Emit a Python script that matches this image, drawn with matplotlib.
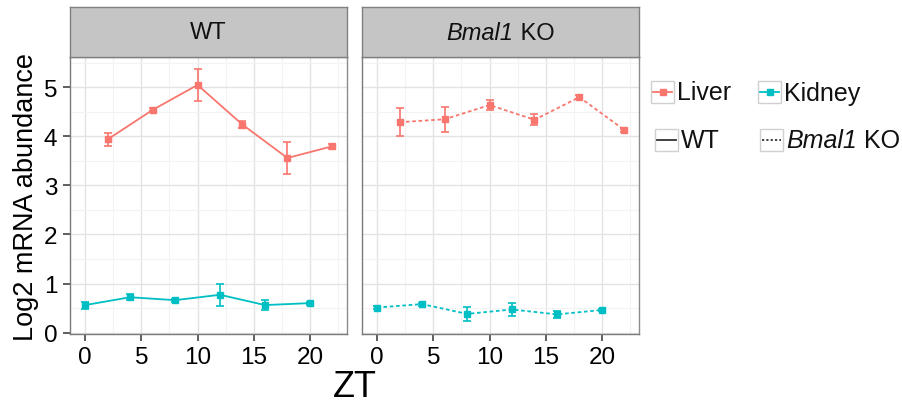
import matplotlib
matplotlib.use("Agg")
import matplotlib.pyplot as plt
from matplotlib.patches import Rectangle
from matplotlib.lines import Line2D
from matplotlib.offsetbox import TextArea, HPacker, AnnotationBbox

plt.rcParams['font.family'] = ['Liberation Sans', 'DejaVu Sans']

# Data (ZT hours, log2 abundance, error)
zt_liver = [2, 6, 10, 14, 18, 22]
zt_kidney = [0, 4, 8, 12, 16, 20]

wt_liver = [3.94, 4.54, 5.05, 4.24, 3.56, 3.80]
wt_liver_err = [0.13, 0.03, 0.32, 0.07, 0.33, 0.05]
wt_kidney = [0.56, 0.72, 0.66, 0.77, 0.56, 0.60]
wt_kidney_err = [0.07, 0.06, 0.03, 0.22, 0.10, 0.03]

ko_liver = [4.29, 4.35, 4.64, 4.34, 4.80, 4.13]
ko_liver_err = [0.28, 0.25, 0.10, 0.11, 0.04, 0.03]
ko_kidney = [0.51, 0.58, 0.38, 0.47, 0.37, 0.46]
ko_kidney_err = [0.04, 0.03, 0.15, 0.13, 0.07, 0.03]

liver_col = '#F8766D'
kidney_col = '#00BFC4'

W, H = 902, 410
fig = plt.figure(figsize=(W / 100, H / 100), dpi=100)


def px_box(x0, y0, x1, y1):
    # pixel box (top-left origin) -> figure fraction
    return [x0 / W, 1 - y1 / H, (x1 - x0) / W, (y1 - y0) / H]


def mixed_label(ax, xy, parts, size, align):
    # text made of (string, style) pieces, e.g. italic gene name + plain text
    boxes = [TextArea(s, textprops=dict(fontsize=size, fontstyle=st, color='#111111'))
             for s, st in parts]
    pack = HPacker(children=boxes, pad=0, sep=0, align='baseline')
    ab = AnnotationBbox(pack, xy, xycoords=ax.transData if align != 'center' else ax.transAxes,
                        box_alignment=(0 if align == 'left' else 0.5, 0.5),
                        frameon=False, pad=0)
    ax.add_artist(ab)


ko_title = [('Bmal1', 'italic'), (' KO', 'normal')]

panels = [
    ([('WT', 'normal')], 'solid', wt_liver, wt_liver_err, wt_kidney, wt_kidney_err, 70, 347),
    (ko_title, (0, (2, 1.5)), ko_liver, ko_liver_err, ko_kidney, ko_kidney_err, 362, 639),
]

for i, (title, ls, lv, lve, kd, kde, x0, x1) in enumerate(panels):
    ax = fig.add_axes(px_box(x0, 58, x1, 335))
    ax.set_xlim(-1.35, 23.3)
    ax.set_ylim(-0.03, 5.62)
    ax.set_xticks([0, 5, 10, 15, 20])
    ax.set_yticks([0, 1, 2, 3, 4, 5])
    ax.set_xticks([2.5, 7.5, 12.5, 17.5, 22.5], minor=True)
    ax.set_yticks([0.5, 1.5, 2.5, 3.5, 4.5, 5.5], minor=True)
    ax.grid(which='major', color='#E3E3E3', lw=1.0)
    ax.grid(which='minor', color='#F3F3F3', lw=0.8)
    ax.set_axisbelow(True)
    for s in ax.spines.values():
        s.set_color('#8C8C8C')
        s.set_linewidth(1.0)
    ax.spines['left'].set_color('#7A7A7A')
    ax.spines['bottom'].set_color('#7A7A7A')
    ax.tick_params(which='major', direction='out', length=5, width=1.1,
                   color='#333333', labelsize=17.5, pad=4)
    ax.tick_params(which='minor', length=0)
    if i > 0:
        ax.tick_params(axis='y', which='major', length=0, labelleft=False)

    for x, y, e, c in [(zt_liver, lv, lve, liver_col), (zt_kidney, kd, kde, kidney_col)]:
        ax.plot(x, y, color=c, ls=ls, lw=1.3)
        ax.errorbar(x, y, yerr=e, fmt='s', color=c, ms=4.5, ecolor=c,
                    elinewidth=1.2, capsize=3, capthick=1.2, ls='none')

    # facet strip
    sax = fig.add_axes(px_box(x0, 8, x1, 58))
    sax.set_xticks([])
    sax.set_yticks([])
    sax.set_facecolor('#C4C5C4')
    for s in sax.spines.values():
        s.set_color('#808080')
        s.set_linewidth(1.0)
    mixed_label(sax, (0.5, 0.5), title, 17, 'center')

fig.text(26 / W, 1 - 197 / H, 'Log2 mRNA abundance', rotation=90,
         ha='center', va='center', fontsize=19.5)
fig.text(355 / W, 1 - 388 / H, 'ZT', ha='center', va='center', fontsize=26)

# legend drawn in a pixel-coordinate overlay
lax = fig.add_axes([0, 0, 1, 1])
lax.set_xlim(0, W)
lax.set_ylim(H, 0)
lax.axis('off')

keys = [
    (651, 82, [('Liver', 'normal')], liver_col, 'solid', True),
    (758, 82, [('Kidney', 'normal')], kidney_col, 'solid', True),
    (655, 130, [('WT', 'normal')], '#333333', 'solid', False),
    (760, 130, ko_title, '#333333', (0, (1.2, 1.2)), False),
]
for kx, ky, lab, c, ls, mk in keys:
    lax.add_patch(Rectangle((kx, ky), 23, 22, fill=False, ec='#D0D0D0', lw=1.0))
    lax.add_line(Line2D([kx + 2, kx + 21], [ky + 11, ky + 11], color=c, ls=ls, lw=1.3))
    if mk:
        lax.add_line(Line2D([kx + 11.5], [ky + 11], color=c, marker='s', ms=4.5, ls='none'))
    mixed_label(lax, (kx + 26, ky + 11.5), lab, 18, 'left')

fig.savefig('out.png', dpi=100)
